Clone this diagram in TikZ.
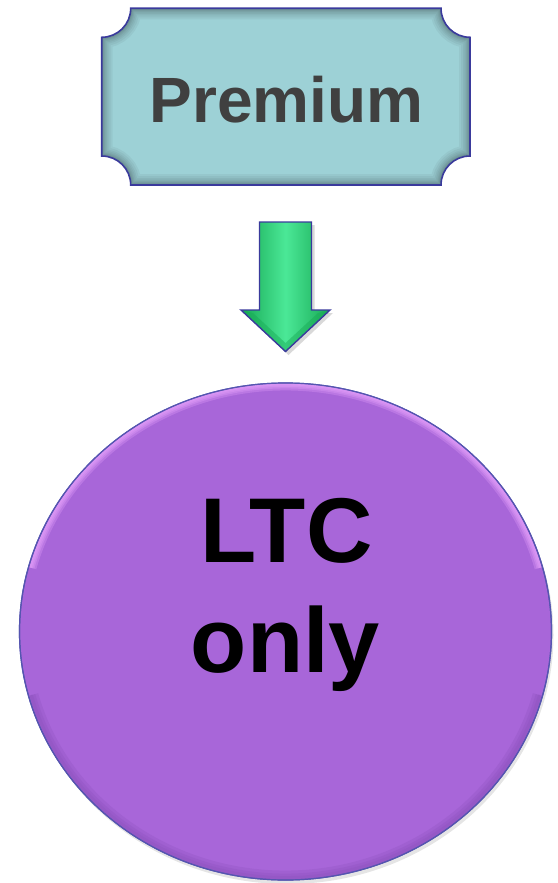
\documentclass[tikz,border=0pt]{standalone}
\usepackage{fontspec}
\setmainfont{Liberation Sans}
\usetikzlibrary{shapes.geometric}
\definecolor{plaqfill}{HTML}{9DD1D6}
\definecolor{plaqline}{HTML}{3A3A9C}
\definecolor{txtgray}{HTML}{404040}
\definecolor{arrfill}{HTML}{22C96A}
\definecolor{arrlight}{HTML}{4BE897}
\definecolor{arrdark}{HTML}{17A954}
\definecolor{circfill}{HTML}{A866D9}
\definecolor{circhi}{HTML}{EBA6FF}
\definecolor{circlo}{HTML}{8A50BA}
\definecolor{circline}{HTML}{5555B0}
\tikzset{
  bigtext/.style={font=\bfseries\fontsize{92}{110}\selectfont, text=black, inner sep=0pt},
  premtext/.style={font=\bfseries\fontsize{64}{77}\selectfont, text=txtgray, inner sep=0pt},
  blockarrow/.style={left color=arrdark, right color=arrdark, middle color=arrlight},
  circstyle/.style={ellipse, fill=circfill, draw=circline, line width=1.2pt, minimum width=532pt, minimum height=497pt, inner sep=0pt},
  soft/.style={black, opacity=0.045}
}
\begin{document}
\begin{tikzpicture}[x=1pt,y=1pt]
\useasboundingbox (0,0) rectangle (557,-883);
% plaque
\def\plaq{(130.7,-8.3) -- (441,-8.3) arc[start angle=180, end angle=270, radius=29]
  -- (470,-156) arc[start angle=90, end angle=180, radius=29]
  -- (130.7,-185) arc[start angle=0, end angle=90, radius=29]
  -- (101.7,-37.3) arc[start angle=-90, end angle=0, radius=29] -- cycle}
\fill[plaqfill] \plaq;
\begin{scope}
  \clip \plaq;
  \foreach \w in {22,18,14,11,8,6,4,2.5}{
    \draw[soft, line width=\w pt] \plaq;
  }
\end{scope}
\draw[plaqline, line width=1.6pt] \plaq;
\node[premtext, anchor=base] (prem) at (286.5,-122) {Premium};
% arrow (shadow then body)
\fill[black, opacity=0.15] (262.5,-225) -- (314.5,-225) -- (314.5,-313) -- (333,-313) -- (288.5,-355) -- (244,-313) -- (262.5,-313) -- cycle;
\shade[blockarrow] (259.5,-222) -- (311.5,-222) -- (311.5,-310) -- (330,-310) -- (285.5,-351.5) -- (241,-310) -- (259.5,-310) -- cycle;
\fill[arrdark, opacity=0.45] (241,-310) -- (285.5,-351.5) -- (330,-310) -- (318,-313) -- (285.5,-343) -- (253,-313) -- cycle;
\draw[plaqline, line width=1.4pt] (259.5,-222) -- (311.5,-222) -- (311.5,-310) -- (330,-310) -- (285.5,-351.5) -- (241,-310) -- (259.5,-310) -- cycle;
% circle
\fill[black, opacity=0.10] (287.5,-635) ellipse[x radius=266, y radius=249];
\node[circstyle] (ltc) at (285.5,-631.5) {};
\begin{scope}
  \clip (285.5,-631.5) ellipse[x radius=265, y radius=248];
  \foreach \w in {14,10,7,4}{
    \draw[circhi, line width=\w pt, opacity=0.28] (285.5,-631.5) ++(165:265 and 248) arc[start angle=165, end angle=15, x radius=265, y radius=248];
  }
  \foreach \w in {18,12,7}{
    \draw[circlo, line width=\w pt, opacity=0.25] (285.5,-631.5) ++(195:265 and 248) arc[start angle=195, end angle=345, x radius=265, y radius=248];
  }
\end{scope}
\draw[circline, line width=1.2pt] (285.5,-631.5) ellipse[x radius=266, y radius=248.5];
\node[bigtext, anchor=base] (ltcA) at (286.5,-562) {LTC};
\node[bigtext, anchor=base] (ltcB) at (285.5,-672) {only};
\end{tikzpicture}
\end{document}
